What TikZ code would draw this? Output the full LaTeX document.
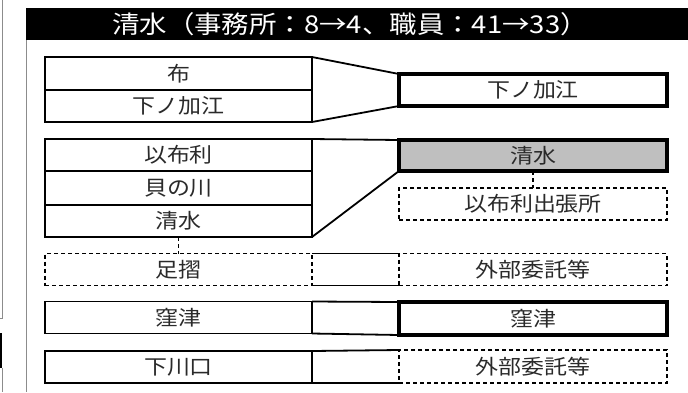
\documentclass[tikz,border=0pt]{standalone}
\usepackage{fontspec}
\setmainfont{Noto Sans CJK JP}
\newfontfamily\jfont[FakeStretch=1.12]{Noto Sans CJK JP}
\usepackage{tikz}
\definecolor{ink}{HTML}{000000}
\definecolor{soft}{HTML}{2A2A2A}
\definecolor{shade}{HTML}{BFBFBF}
\definecolor{frame}{HTML}{8C8C8C}
\tikzset{
  oldbox/.style={draw=ink, line width=1.8pt, minimum width=267pt, minimum height=32pt,
    inner sep=0pt, outer sep=0pt, text=soft, font=\jfont\fontsize{20.5}{20.5}\selectfont},
  gonebox/.style={oldbox, line width=1.4pt, dash pattern=on 4pt off 3pt},
  newbox/.style={oldbox, line width=3.6pt, minimum width=268pt},
  hubbox/.style={newbox, fill=shade},
  subbox/.style={gonebox, minimum width=268pt},
  link/.style={draw=ink, line width=1.8pt},
  sublink/.style={draw=ink, line width=1.4pt, dash pattern=on 4pt off 3pt},
  title/.style={text=white, font=\jfont\fontsize{24.5}{24.5}\selectfont, inner sep=0pt},
}
\begin{document}
\begin{tikzpicture}[x=1pt,y=-1pt]
  \useasboundingbox (0,0) rectangle (688,392);
  % page edge left of the frame
  \draw[frame, line width=1pt] (2.5,0) -- (2.5,318) -- (0,318);
  \draw[ink, line width=2.5pt] (1.2,333) -- (1.2,368);
  \draw[frame, line width=1pt] (2.5,368) -- (2.5,392);
  % frame and title bar
  \draw[frame, line width=1pt] (26.5,40) -- (26.5,392);
  \fill[ink] (26,8) rectangle (688,40);
  \node[title] (head) at (350,24.5) {清水（事務所：8→4、職員：41→33）};

  % old offices (left)
  \node[oldbox, minimum height=33pt] (nuno) at (178.5,73.5) {布};
  \node[oldbox] (shimoL) at (178.5,106) {下ノ加江};
  \node[oldbox] (ibuL) at (178.5,155) {以布利};
  \node[oldbox, minimum height=34pt] (kaino) at (178.5,188) {貝の川};
  \node[oldbox] (shimizuL) at (178.5,221) {清水};
  \node[gonebox] (ashi) at (178.5,269.5) {足摺};
  \node[oldbox] (kuboL) at (178.5,317.5) {窪津};
  \node[oldbox] (shimokawa) at (178.5,367) {下川口};

  % new offices (right)
  \node[newbox] (shimoR) at (533,90) {下ノ加江};
  \node[hubbox, minimum height=31pt] (shimizuR) at (533,155.5) {清水};
  \node[subbox] (ibuR) at (533,204) {以布利出張所};
  \node[subbox] (outA) at (533,269.5) {外部委託等};
  \node[newbox, minimum height=33pt] (kuboR) at (533,318.5) {窪津};
  \node[subbox, minimum height=33pt] (outB) at (533,366.5) {外部委託等};

  % merges
  \draw[link] (nuno.north east) -- (shimoR.north west);
  \draw[link] (shimoL.south east) -- (shimoR.south west);
  \draw[link] (ibuL.north east) -- (shimizuR.north west);
  \draw[link] (shimizuL.south east) -- (shimizuR.south west);
  \draw[link] (ashi.north east) -- (outA.north west);
  \draw[link] (ashi.south east) -- (outA.south west);
  \draw[link] (kuboL.north east) -- (kuboR.north west);
  \draw[link] (kuboL.south east) -- (kuboR.south west);
  \draw[link] (shimokawa.north east) -- (outB.north west);
  \draw[link] (shimokawa.south east) -- (outB.south west);
  \draw[sublink] (shimizuL.south) -- (ashi.north);
  \draw[sublink] (shimizuR.south) -- (ibuR.north);
\end{tikzpicture}
\end{document}
